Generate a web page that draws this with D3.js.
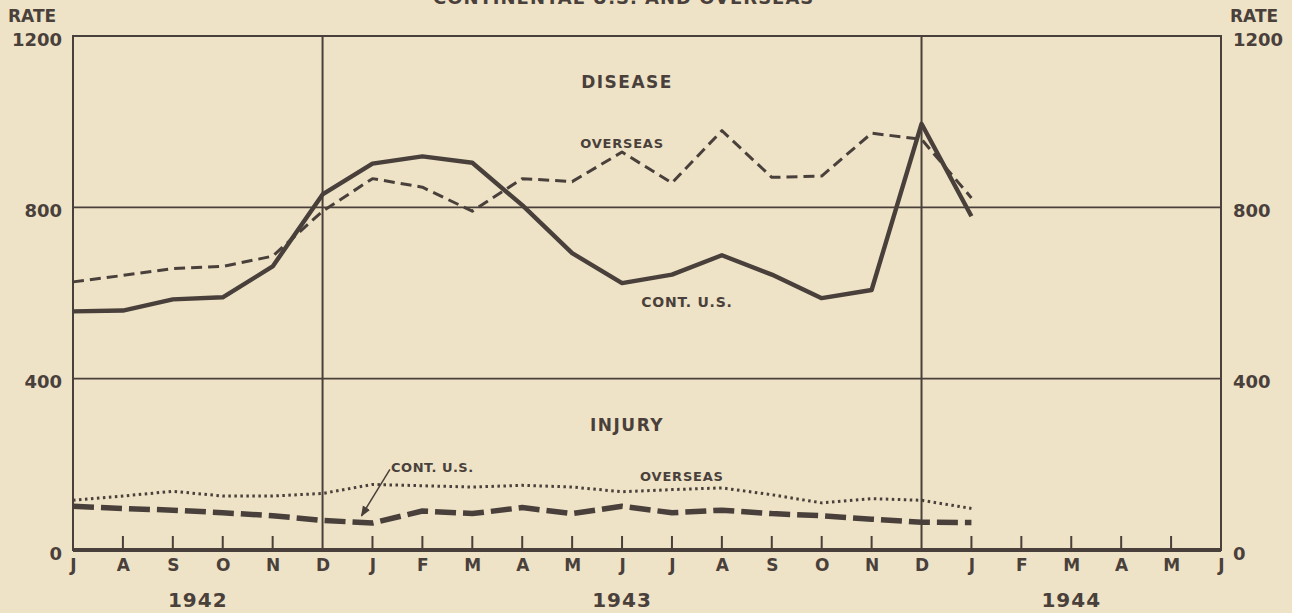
<!DOCTYPE html>
<html>
<head>
<meta charset="utf-8">
<script src="https://cdn.jsdelivr.net/npm/d3@7"></script>
<style>
  html, body { margin: 0; padding: 0; background: #eee3c6; }
  svg { display: block; }
  text { font-family: "DejaVu Sans", sans-serif; font-weight: bold; fill: #4a403b; }
</style>
</head>
<body>
<div id="chart"></div>
<script>
// months from Jul 1942 to Jun 1944
var months = ["J","A","S","O","N","D","J","F","M","A","M","J","J","A","S","O","N","D","J","F","M","A","M","J"];
var years = ["1942", "1943", "1944"];
var yearAt = [2.5, 11, 20];
var rateTicks = [0, 400, 800, 1200];

// rates per thousand men per year, Jul 1942 - Jan 1944
var diseaseUS = [557, 559, 585, 590, 662, 830, 902, 919, 904, 805, 693, 623, 643, 688, 643, 588, 607, 995, 779];
var diseaseOverseas = [626, 641, 657, 662, 686, 791, 867, 847, 791, 867, 860, 929, 857, 979, 870, 873, 973, 959, 822];
var injuryUS = [102, 97, 93, 87, 80, 69, 63, 91, 85, 99, 85, 102, 87, 93, 85, 80, 72, 65, 64];
var injuryOverseas = [116, 126, 137, 126, 126, 132, 153, 150, 147, 151, 147, 136, 141, 145, 129, 110, 120, 116, 97];

var width = 1292, height = 613;
var ink = "#4a403b";
var plotLeft = 73, plotRight = 1221, plotTop = 36, plotBottom = 550;

var svg = d3.select("#chart").append("svg")
  .attr("width", width)
  .attr("height", height);

var x = d3.scaleLinear().domain([0, months.length - 1]).range([plotLeft, plotRight]);
var y = d3.scaleLinear().domain([0, 1200]).range([plotBottom, plotTop]);

// clipped title at the very top of the page
svg.append("text")
  .attr("x", 433).attr("y", 4)
  .style("font-size", "18px")
  .style("letter-spacing", "1px")
  .text("CONTINENTAL U.S. AND OVERSEAS");

// horizontal grid lines
svg.append("g")
  .selectAll("line")
  .data([400, 800])
  .enter().append("line")
    .attr("x1", plotLeft).attr("x2", plotRight)
    .attr("y1", function(d) { return y(d); })
    .attr("y2", function(d) { return y(d); })
    .attr("stroke", ink)
    .attr("stroke-width", 1.6);

// year separators (December)
svg.append("g")
  .selectAll("line")
  .data([5, 17])
  .enter().append("line")
    .attr("x1", function(d) { return x(d); })
    .attr("x2", function(d) { return x(d); })
    .attr("y1", plotTop).attr("y2", plotBottom)
    .attr("stroke", ink)
    .attr("stroke-width", 2);

// frame
svg.append("rect")
  .attr("x", plotLeft).attr("y", plotTop)
  .attr("width", plotRight - plotLeft).attr("height", plotBottom - plotTop)
  .attr("fill", "none")
  .attr("stroke", ink)
  .attr("stroke-width", 2);

// month axis
var xAxis = svg.append("g")
  .attr("transform", "translate(0," + plotBottom + ")")
  .call(d3.axisBottom(x)
    .tickValues(d3.range(months.length))
    .tickSize(0)
    .tickPadding(12)
    .tickFormat(function(d) { return months[d]; }));
xAxis.select(".domain")
  .attr("d", "M" + plotLeft + ",0H" + plotRight)
  .attr("stroke", ink).attr("stroke-width", 4);
xAxis.selectAll(".tick text")
  .attr("dy", "0.55em")
  .style("font-size", "17px")
  .style("font-family", "DejaVu Sans, sans-serif")
  .attr("fill", ink);

// year labels
svg.append("g")
  .selectAll("text")
  .data(years)
  .enter().append("text")
    .attr("x", function(d, i) { return x(yearAt[i]); })
    .attr("y", 607)
    .attr("text-anchor", "middle")
    .style("font-size", "20px")
    .style("letter-spacing", "1px")
    .text(function(d) { return d; });

// rate axes on both sides
var yLeft = svg.append("g")
  .attr("transform", "translate(" + plotLeft + ",0)")
  .call(d3.axisLeft(y).tickValues(rateTicks).tickFormat(d3.format("d")).tickSize(0).tickPadding(11));
var yRight = svg.append("g")
  .attr("transform", "translate(" + plotRight + ",0)")
  .call(d3.axisRight(y).tickValues(rateTicks).tickFormat(d3.format("d")).tickSize(0).tickPadding(12));
[yLeft, yRight].forEach(function(g) {
  g.select(".domain").remove();
  g.selectAll(".tick text")
    .attr("dy", "0.5em")
    .style("font-size", "18px")
    .style("font-family", "DejaVu Sans, sans-serif")
    .attr("fill", ink);
});

svg.append("text").attr("x", 8).attr("y", 22).style("font-size", "17px").text("RATE");
svg.append("text").attr("x", 1230).attr("y", 22).style("font-size", "17px").text("RATE");

// the four series
var line = d3.line()
  .x(function(d, i) { return x(i); })
  .y(function(d) { return y(d); });

var series = [
  { values: diseaseUS, width: 4.4, dash: null },
  { values: diseaseOverseas, width: 3, dash: "11,6" },
  { values: injuryUS, width: 5.5, dash: "21,7" },
  { values: injuryOverseas, width: 3, dash: "2.5,3.5" }
];
svg.append("g")
  .selectAll("path")
  .data(series)
  .enter().append("path")
    .attr("d", function(d) { return line(d.values); })
    .attr("fill", "none")
    .attr("stroke", ink)
    .attr("stroke-width", function(d) { return d.width; })
    .attr("stroke-dasharray", function(d) { return d.dash; })
    .attr("stroke-linejoin", "round");

// labels inside the plot
var labels = [
  { t: "DISEASE", at: 11.1, v: 1092, size: 17, sp: 1.5 },
  { t: "OVERSEAS", at: 11, v: 950, size: 13, sp: 0.8 },
  { t: "CONT. U.S.", at: 12.3, v: 580, size: 14, sp: 0.8 },
  { t: "INJURY", at: 11.1, v: 292, size: 17, sp: 1.5 },
  { t: "OVERSEAS", at: 12.2, v: 172, size: 13, sp: 0.8 },
  { t: "CONT. U.S.", at: 7.2, v: 193, size: 13, sp: 0.5 }
];
svg.append("g")
  .selectAll("text")
  .data(labels)
  .enter().append("text")
    .attr("x", function(d) { return x(d.at); })
    .attr("y", function(d) { return y(d.v); })
    .attr("dy", "0.36em")
    .attr("text-anchor", "middle")
    .style("font-size", function(d) { return d.size + "px"; })
    .style("letter-spacing", function(d) { return d.sp + "px"; })
    .text(function(d) { return d.t; });

// arrow from the injury label down to its line
svg.append("defs").append("marker")
  .attr("id", "arrow")
  .attr("viewBox", "0 0 10 10")
  .attr("refX", 9).attr("refY", 5)
  .attr("markerWidth", 7).attr("markerHeight", 7)
  .attr("orient", "auto")
  .append("path")
    .attr("d", "M0,1 L10,5 L0,9 Z")
    .attr("fill", ink);
svg.append("line")
  .attr("x1", x(6.35)).attr("y1", y(188))
  .attr("x2", x(5.78)).attr("y2", y(80))
  .attr("stroke", ink)
  .attr("stroke-width", 1.5)
  .attr("marker-end", "url(#arrow)");

// small month ticks standing on the base line, drawn last
svg.append("g")
  .selectAll("rect")
  .data(d3.range(1, months.length - 1).filter(function(d) { return d !== 5 && d !== 17; }))
  .enter().append("rect")
    .attr("x", function(d) { return x(d) - 1; })
    .attr("y", plotBottom - 14)
    .attr("width", 2)
    .attr("height", 14)
    .attr("fill", ink);
</script>
</body>
</html>
